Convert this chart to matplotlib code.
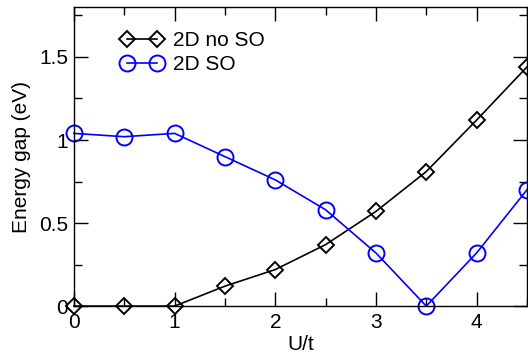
import numpy as np
import matplotlib
matplotlib.use('Agg')
import matplotlib.pyplot as plt
from matplotlib.ticker import MultipleLocator

plt.rcParams['font.family'] = ['Liberation Sans', 'DejaVu Sans']

u = [0, 0.5, 1, 1.5, 2, 2.5, 3, 3.5, 4, 4.5]
gap_noso = [0, 0, 0, 0.12, 0.22, 0.37, 0.57, 0.81, 1.12, 1.44]
gap_so = [1.04, 1.02, 1.04, 0.90, 0.76, 0.58, 0.32, 0.0, 0.32, 0.70]

fig = plt.figure(figsize=(5.28, 3.58), dpi=100)
ax = fig.add_axes([0.140, 0.145, 0.858, 0.835])

ax.plot(u, gap_noso, color='black', lw=1.2, marker='D', ms=8,
        mfc='none', mec='black', mew=1.4, label='2D no SO', clip_on=False)
ax.plot(u, gap_so, color='blue', lw=1.2, marker='o', ms=11.5,
        mfc='none', mec='blue', mew=1.4, label='2D SO', clip_on=False)

ax.set_xlim(0, 4.5)
ax.set_ylim(0, 1.8)
ax.xaxis.set_major_locator(MultipleLocator(1))
ax.xaxis.set_minor_locator(MultipleLocator(0.5))
ax.yaxis.set_major_locator(MultipleLocator(0.5))
ax.yaxis.set_minor_locator(MultipleLocator(0.25))
ax.yaxis.set_major_formatter(plt.FuncFormatter(lambda v, p: ('%g' % v)))
ax.tick_params(which='both', direction='in', top=True, right=True,
               labelsize=15, width=1.0)
ax.tick_params(which='major', length=10)
ax.tick_params(which='minor', length=6)
ax.tick_params(axis='x', pad=5)
ax.tick_params(axis='y', pad=4)
for s in ax.spines.values():
    s.set_linewidth(1.0)

ax.set_xlabel('U/t', fontsize=15, labelpad=2)
ax.set_ylabel('Energy gap (eV)', fontsize=15, labelpad=6)

ax.legend(loc='upper left', bbox_to_anchor=(0.103, 0.92), frameon=False,
          fontsize=15, handlelength=2.04, handletextpad=0.47,
          labelspacing=0.25, numpoints=2, borderaxespad=0, borderpad=0)

fig.savefig('out.png', dpi=100)
